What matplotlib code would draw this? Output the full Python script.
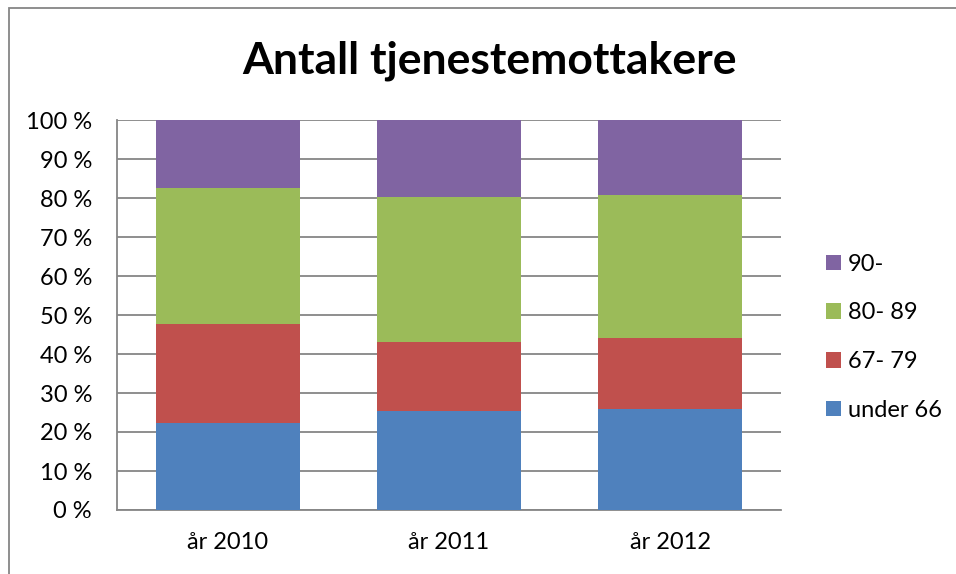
import matplotlib
matplotlib.use("Agg")
import matplotlib.pyplot as plt
import matplotlib.patches as mpatches
import numpy as np

plt.rcParams['font.family'] = ['Lato', 'DejaVu Sans']

# data (percent of total per year)
years = ['år 2010', 'år 2011', 'år 2012']
groups = ['under 66', '67- 79', '80- 89', '90-']
under66 = [22.2, 25.4, 25.8]
age67_79 = [25.5, 17.8, 18.2]
age80_89 = [34.9, 37.0, 36.8]
age90 = [17.4, 19.8, 19.2]
colors = ['#4f81bd', '#c0504d', '#9bbb59', '#8064a2']

fig = plt.figure(figsize=(9.56, 5.74), dpi=100)
W, H = 956, 574

# outer chart border, only left and top edges fall inside the picture
fig.patches.append(mpatches.Rectangle((9 / W, -0.1), 2, 1.1 - 8 / H, transform=fig.transFigure,
                                      fill=False, edgecolor='#868686', linewidth=1.3))

ax = fig.add_axes([117 / W, 1 - 510 / H, (781 - 117) / W, (510 - 120) / H])

x = np.arange(len(years))
series = [under66, age67_79, age80_89, age90]
bottom = np.zeros(len(years))
handles = []
for vals, col, lab in zip(series, colors, groups):
    b = ax.bar(x, vals, width=0.65, bottom=bottom, color=col, label=lab, zorder=3)
    handles.append(b)
    bottom += np.array(vals)

ax.set_xlim(-0.5, 2.5)
ax.set_ylim(0, 100)
ax.set_yticks(np.arange(0, 101, 10))
ax.set_yticklabels([f'{v} %' for v in range(0, 101, 10)], fontsize=17)
ax.set_xticks(x)
ax.set_xticklabels(years, fontsize=17)
ax.tick_params(axis='y', length=0, pad=18)
ax.tick_params(axis='x', length=0, pad=16)
ax.yaxis.grid(True, color='#868686', linewidth=1.3, zorder=0)
ax.set_axisbelow(True)
for s in ['top', 'right']:
    ax.spines[s].set_visible(False)
for s in ['left', 'bottom']:
    ax.spines[s].set_color('#868686')
    ax.spines[s].set_linewidth(1.3)

fig.text(489 / W, 1 - 61 / H, 'Antall tjenestemottakere', ha='center', va='center',
         fontsize=32, fontweight='bold')

leg = fig.legend(handles[::-1], groups[::-1], loc='upper left',
                 bbox_to_anchor=(814 / W, 1 - 242 / H), frameon=False, fontsize=17,
                 handlelength=0.65, handleheight=0.65, handletextpad=0.3,
                 labelspacing=1.17, borderpad=0)

fig.savefig('out.png', dpi=100)
